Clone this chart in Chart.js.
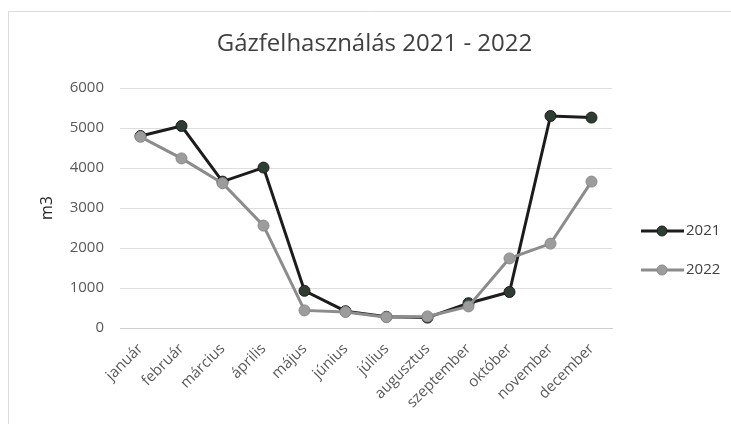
<!DOCTYPE html>
<html>
<head>
<meta charset="utf-8">
<script src="https://cdn.jsdelivr.net/npm/chart.js@4/dist/chart.umd.min.js"></script>
<style>
html,body{margin:0;padding:0;background:#fff;}
#wrap{width:731px;height:424px;position:relative;}
</style>
</head>
<body>
<div id="wrap"><canvas id="c" width="731" height="424"></canvas></div>
<script>
const months = ['január','február','március','április','május','június','július','augusztus','szeptember','október','november','december'];
const values2021 = [4800, 5050, 3660, 4010, 930, 420, 280, 260, 620, 900, 5300, 5260];
const values2022 = [4780, 4240, 3620, 2560, 440, 400, 270, 290, 540, 1740, 2110, 3660];
const yTicks = [0, 1000, 2000, 3000, 4000, 5000, 6000];
const titleText = 'Gázfelhasználás 2021 - 2022';
const yTitle = 'm3';

const FONT = "'Open Sans', 'Liberation Sans', sans-serif";

const bgPlugin = {
  id: 'bg',
  beforeDraw(chart) {
    const ctx = chart.ctx;
    ctx.save();
    ctx.fillStyle = '#ffffff';
    ctx.fillRect(0, 0, chart.width, chart.height);
    ctx.strokeStyle = '#dcdcdc';
    ctx.lineWidth = 1;
    ctx.beginPath();
    ctx.moveTo(8, 11.5); ctx.lineTo(731, 11.5);
    ctx.moveTo(8.5, 11); ctx.lineTo(8.5, 424);
    ctx.stroke();
    ctx.restore();
  }
};

const legendPlugin = {
  id: 'customLegend',
  afterDraw(chart) {
    const ctx = chart.ctx;
    ctx.save();
    const items = chart.data.datasets;
    const x0 = 641, x1 = 684, xm = 662;
    const ys = [231, 270];
    items.forEach((ds, i) => {
      const y = ys[i];
      ctx.strokeStyle = ds.borderColor;
      ctx.lineWidth = 3;
      ctx.beginPath(); ctx.moveTo(x0, y); ctx.lineTo(x1, y); ctx.stroke();
      ctx.fillStyle = ds.pointBackgroundColor;
      ctx.strokeStyle = ds.pointBorderColor;
      ctx.lineWidth = 1;
      ctx.beginPath(); ctx.arc(xm, y, 5, 0, Math.PI * 2); ctx.fill(); ctx.stroke();
      ctx.fillStyle = '#404040';
      ctx.font = "15px " + FONT;
      ctx.textBaseline = 'middle';
      ctx.textAlign = 'left';
      ctx.fillText(ds.label, 686, y);
    });
    ctx.restore();
  }
};

new Chart(document.getElementById('c'), {
  type: 'line',
  data: {
    labels: months,
    datasets: [
      {
        label: '2021',
        data: values2021,
        borderColor: '#1c1c1c',
        backgroundColor: '#1c1c1c',
        pointBackgroundColor: '#2e3d34',
        pointBorderColor: '#1c1c1c',
        borderWidth: 3,
        pointRadius: 5.5,
        pointBorderWidth: 1,
        tension: 0,
        order: 2
      },
      {
        label: '2022',
        data: values2022,
        borderColor: '#8c8c8c',
        backgroundColor: '#8c8c8c',
        pointBackgroundColor: '#9c9c9c',
        pointBorderColor: '#8a8a8a',
        borderWidth: 3,
        pointRadius: 5.5,
        pointBorderWidth: 1,
        tension: 0,
        order: 1
      }
    ]
  },
  options: {
    responsive: false,
    animation: false,
    devicePixelRatio: 1,
    layout: { padding: { left: 18, right: 0, top: 0, bottom: 0 } },
    plugins: {
      legend: { display: false },
      tooltip: { enabled: false },
      title: {
        display: true,
        text: titleText,
        color: '#404040',
        font: { family: FONT, size: 24, weight: 'normal' },
        padding: { top: 30, bottom: 29.2 }
      }
    },
    scales: {
      x: {
        offset: true,
        grid: { display: false, drawTicks: false },
        border: { display: true, color: '#d0d0d0', width: 1 },
        ticks: {
          color: '#595959',
          font: { family: FONT, size: 15 },
          maxRotation: 45,
          minRotation: 45,
          padding: 12,
          autoSkip: false
        },
        afterFit(s) { s.height = 96; }
      },
      y: {
        min: 0,
        max: 6000,
        afterBuildTicks(s) { s.ticks = yTicks.map(v => ({ value: v })); },
        grid: { color: '#dedede', lineWidth: 1, drawTicks: false },
        border: { display: false },
        ticks: {
          color: '#595959',
          font: { family: FONT, size: 15 },
          padding: 16,
          callback: v => String(v)
        },
        title: {
          display: true,
          text: yTitle,
          color: '#262626',
          font: { family: FONT, size: 16 },
          padding: { top: 20, bottom: 0 }
        },
        afterFit(s) { s.width = 102; }
      },
      yDummy: {
        position: 'right',
        display: true,
        grid: { display: false, drawTicks: false },
        border: { display: false },
        ticks: { display: false },
        afterFit(s) { s.width = 119; }
      }
    }
  },
  plugins: [bgPlugin, legendPlugin]
});
</script>
</body>
</html>
